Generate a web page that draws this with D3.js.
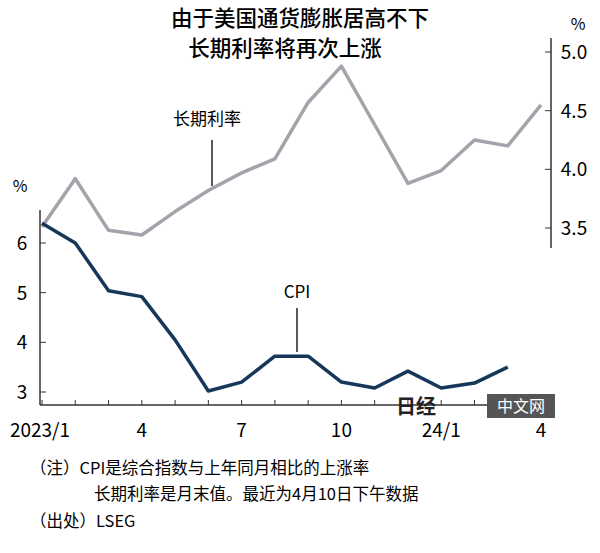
<!DOCTYPE html><html><head><meta charset="utf-8"><script src="https://cdn.jsdelivr.net/npm/d3@7"></script>
<style>body{margin:0;background:#fff}text{font-family:"Noto Sans CJK SC","Noto Sans",sans-serif}</style></head><body><svg id="c" width="600" height="553"></svg>
<script>
const months = ["2023/1","2","3","4","5","6","7","8","9","10","11","12","24/1","2","3","4"];
const tickLabels = ["2023/1","4","7","10","24/1","4"];
const cpi = [6.4,6.0,5.04,4.92,4.05,3.02,3.2,3.72,3.72,3.2,3.08,3.42,3.08,3.18,3.5];
const rate = [3.51,3.92,3.48,3.44,3.64,3.82,3.97,4.09,4.57,4.88,4.38,3.88,3.99,4.25,4.20,4.55];
const leftTicks=[3,4,5,6], rightTicks=[3.5,4.0,4.5,5.0];
const svg=d3.select("#c");
const x=d3.scaleLinear().domain([0,15]).range([42,541]);
const yL=d3.scaleLinear().domain([3,6]).range([392,243]);
const yR=d3.scaleLinear().domain([3.5,5.0]).range([228,52]);
svg.append("text").attr("x",300).attr("y",26).attr("text-anchor","middle").attr("font-size",21.5).attr("font-weight",500).text("由于美国通货膨胀居高不下");
svg.append("text").attr("x",285).attr("y",56).attr("text-anchor","middle").attr("font-size",21.5).attr("font-weight",500).text("长期利率将再次上涨");
const ax="#333";
svg.append("line").attr("x1",40).attr("x2",552).attr("y1",405).attr("y2",405).attr("stroke",ax).attr("stroke-width",1.5);
months.forEach((m,i)=>{svg.append("line").attr("x1",x(i)).attr("x2",x(i)).attr("y1",405).attr("y2",400).attr("stroke",ax);});
[0,3,6,9,12,15].forEach((i,k)=>svg.append("text").attr("x",x(i)+(k==0?-2:0)).attr("y",437).attr("text-anchor","middle").attr("font-size",19).text(tickLabels[k]));
svg.append("line").attr("x1",40).attr("x2",40).attr("y1",210).attr("y2",405).attr("stroke",ax).attr("stroke-width",1.5);
leftTicks.forEach(t=>{svg.append("line").attr("x1",40).attr("x2",46).attr("y1",yL(t)).attr("y2",yL(t)).attr("stroke",ax);
 svg.append("text").attr("x",22).attr("y",yL(t)+7).attr("text-anchor","middle").attr("font-size",19).text(t);});
svg.append("text").attr("x",20).attr("y",192).attr("text-anchor","middle").attr("font-size",16).text("%");
svg.append("line").attr("x1",551).attr("x2",551).attr("y1",38).attr("y2",248).attr("stroke",ax).attr("stroke-width",1.5);
rightTicks.forEach(t=>{svg.append("line").attr("x1",545).attr("x2",551).attr("y1",yR(t)).attr("y2",yR(t)).attr("stroke",ax);
 svg.append("text").attr("x",574).attr("y",yR(t)+7).attr("text-anchor","middle").attr("font-size",19).text(t.toFixed(1));});
svg.append("text").attr("x",578).attr("y",30).attr("text-anchor","middle").attr("font-size",16).text("%");
const lr=d3.line().x((d,i)=>x(i)).y(d=>yR(d));
const lc=d3.line().x((d,i)=>x(i)).y(d=>yL(d));
svg.append("path").attr("d",lr(rate)).attr("fill","none").attr("stroke","#a3a3ab").attr("stroke-width",3.5).attr("stroke-linejoin","round");
svg.append("path").attr("d",lc(cpi)).attr("fill","none").attr("stroke","#16365a").attr("stroke-width",3.5).attr("stroke-linejoin","round");
svg.append("line").attr("x1",212).attr("x2",212).attr("y1",140).attr("y2",186).attr("stroke","#222").attr("stroke-width",1.5);
svg.append("text").attr("x",207).attr("y",125).attr("text-anchor","middle").attr("font-size",17).text("长期利率");
svg.append("line").attr("x1",297).attr("x2",297).attr("y1",308).attr("y2",352).attr("stroke","#222").attr("stroke-width",1.5);
svg.append("text").attr("x",297).attr("y",298).attr("text-anchor","middle").attr("font-size",17).attr("font-family","DejaVu Sans Mono").text("CPI");
svg.append("text").attr("x",396).attr("y",414).attr("font-size",20).attr("font-weight","bold").attr("fill","#222").text("日经");
svg.append("rect").attr("x",487).attr("y",394).attr("width",68).attr("height",24).attr("fill","#555");
svg.append("text").attr("x",521).attr("y",412).attr("text-anchor","middle").attr("font-size",16).attr("fill","#fff").text("中文网");
const notes=[["（注）CPI是综合指数与上年同月相比的上涨率",30,474],["长期利率是月末值。最近为4月10日下午数据",94,500],["（出处）LSEG",30,527]];
notes.forEach(n=>svg.append("text").attr("x",n[1]).attr("y",n[2]).attr("font-size",16.5).text(n[0]));
</script></body></html>
